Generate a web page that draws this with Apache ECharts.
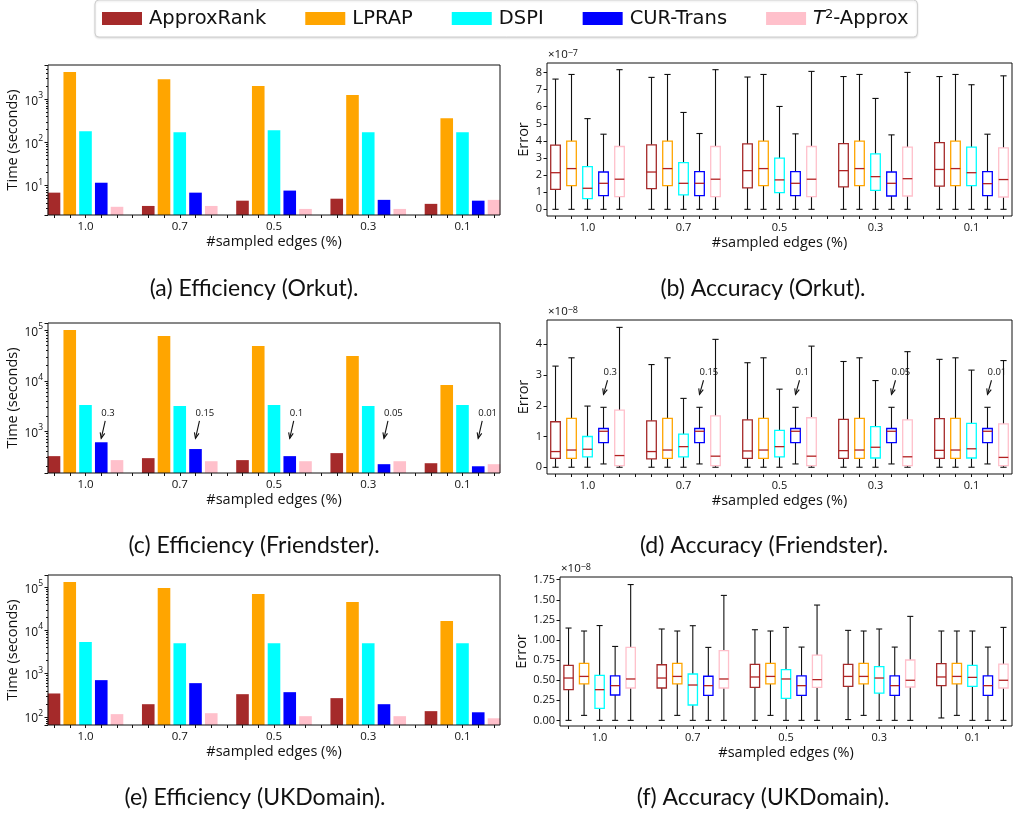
<!DOCTYPE html>
<html>
<head>
<meta charset="utf-8">
<title>Efficiency and accuracy</title>
<script src="https://cdn.jsdelivr.net/npm/echarts@6/dist/echarts.min.js"></script>
<style>
html, body { margin: 0; padding: 0; background: #fff; }
#chart { width: 1016px; height: 813px; }
</style>
</head>
<body>
<div id="chart"></div>
<script>
var methods = ['ApproxRank', 'LPRAP', 'DSPI', 'CUR-Trans', 'T2-Approx'];
var colors = ['#a52a2a', '#ffa500', '#00ffff', '#0000ff', '#ffc0cb'];
var sampleRates = ['1.0', '0.7', '0.5', '0.3', '0.1'];
var cutRatios = ['0.3', '0.15', '0.1', '0.05', '0.01'];

// running time in seconds, one row per method, one column per sample rate
var orkutTime = [
    [6.9, 3.4, 4.5, 5.0, 3.8],
    [4250, 2900, 2000, 1240, 361],
    [180, 171, 190, 171, 171],
    [11.7, 6.9, 7.7, 4.7, 4.5],
    [3.25, 3.4, 2.9, 2.9, 4.7]
];
var friendsterTime = [
    [318, 290, 265, 365, 230],
    [102000, 78000, 49000, 31000, 8250],
    [3300, 3150, 3300, 3150, 3300],
    [600, 440, 318, 220, 200],
    [265, 252, 252, 252, 220]
];
var ukdomainTime = [
    [349, 197, 336, 272, 136],
    [133000, 97000, 70000, 46000, 16600],
    [5400, 5100, 5100, 5100, 5100],
    [710, 605, 374, 197, 128],
    [116, 122, 104, 104, 93]
];

// error boxes: [min, q1, median, q3, max] for every sample rate
var orkutError = [ // x 1e-7
    [[0, 1.17, 2.14, 3.75, 7.61], [0, 1.21, 2.18, 3.77, 7.71], [0, 1.25, 2.26, 3.82, 7.73], [0, 1.31, 2.26, 3.84, 7.76], [0, 1.35, 2.33, 3.9, 7.76]],
    [[0, 1.38, 2.38, 3.98, 7.88], [0, 1.38, 2.38, 3.98, 7.88], [0, 1.38, 2.38, 3.98, 7.88], [0, 1.38, 2.38, 3.98, 7.88], [0, 1.38, 2.38, 3.98, 7.88]],
    [[0, 0.62, 1.23, 2.49, 5.30], [0, 0.84, 1.52, 2.73, 5.66], [0, 0.97, 1.72, 2.99, 6.01], [0, 1.11, 1.91, 3.24, 6.48], [0, 1.38, 2.14, 3.63, 7.28]],
    [[0, 0.8, 1.52, 2.18, 4.39], [0, 0.8, 1.52, 2.2, 4.43], [0, 0.8, 1.52, 2.2, 4.41], [0, 0.78, 1.52, 2.18, 4.35], [0, 0.8, 1.5, 2.2, 4.39]],
    [[0, 0.74, 1.76, 3.67, 8.16], [0, 0.74, 1.76, 3.67, 8.16], [0, 0.74, 1.76, 3.67, 8.06], [0, 0.78, 1.79, 3.63, 8.0], [0, 0.72, 1.74, 3.59, 7.8]]
];
var friendsterError = [ // x 1e-8
    [[0, 0.29, 0.51, 1.48, 3.29], [0, 0.27, 0.51, 1.51, 3.34], [0, 0.29, 0.53, 1.54, 3.40], [0, 0.29, 0.54, 1.56, 3.44], [0, 0.29, 0.55, 1.58, 3.51]],
    [[0, 0.29, 0.56, 1.59, 3.56], [0, 0.29, 0.56, 1.59, 3.56], [0, 0.29, 0.56, 1.59, 3.56], [0, 0.29, 0.56, 1.59, 3.56], [0, 0.29, 0.56, 1.59, 3.56]],
    [[0, 0.335, 0.585, 1.0, 1.99], [0, 0.335, 0.67, 1.08, 2.24], [0, 0.335, 0.67, 1.2, 2.54], [0, 0.3, 0.65, 1.32, 2.82], [0, 0.3, 0.6, 1.43, 3.16]],
    [[0.107, 0.8, 1.17, 1.26, 1.95], [0.107, 0.8, 1.17, 1.26, 1.95], [0.107, 0.8, 1.17, 1.26, 1.95], [0.107, 0.8, 1.17, 1.26, 1.95], [0.107, 0.8, 1.17, 1.26, 1.95]],
    [[0, 0.05, 0.38, 1.86, 4.55], [0, 0.05, 0.36, 1.67, 4.16], [0, 0.05, 0.36, 1.61, 3.94], [0, 0.05, 0.34, 1.54, 3.76], [0, 0.05, 0.32, 1.41, 3.47]]
];
var ukdomainError = [ // x 1e-8
    [[0, 0.382, 0.527, 0.684, 1.149], [0, 0.403, 0.527, 0.692, 1.137], [0, 0.41, 0.54, 0.696, 1.128], [0.01, 0.423, 0.547, 0.696, 1.12], [0.03, 0.432, 0.54, 0.705, 1.112]],
    [[0.062, 0.453, 0.547, 0.709, 1.112], [0.062, 0.453, 0.547, 0.709, 1.112], [0.062, 0.453, 0.547, 0.709, 1.112], [0.062, 0.453, 0.547, 0.709, 1.112], [0.062, 0.453, 0.547, 0.709, 1.112]],
    [[0, 0.149, 0.382, 0.56, 1.18], [0, 0.191, 0.44, 0.577, 1.178], [0, 0.274, 0.515, 0.631, 1.157], [0, 0.34, 0.527, 0.668, 1.137], [0, 0.423, 0.535, 0.684, 1.112]],
    [[0, 0.316, 0.432, 0.553, 0.92], [0, 0.312, 0.432, 0.549, 0.908], [0, 0.312, 0.432, 0.553, 0.912], [0, 0.312, 0.432, 0.553, 0.912], [0, 0.312, 0.432, 0.553, 0.912]],
    [[0, 0.403, 0.515, 0.908, 1.69], [0, 0.403, 0.515, 0.867, 1.555], [0, 0.41, 0.507, 0.813, 1.435], [0, 0.415, 0.499, 0.751, 1.294], [0, 0.403, 0.499, 0.7, 1.157]]
];

// y tick labels of the error panels
var orkutErrorTicks = [0, 1, 2, 3, 4, 5, 6, 7, 8];
var friendsterErrorTicks = [0, 1, 2, 3, 4];
var ukdomainErrorTicks = [0, 0.25, 0.5, 0.75, 1, 1.25, 1.5, 1.75];

// cut-ratio notes on CUR-Trans: [text value, arrow head value]
var friendsterTimeNote = [2300, 720];
var friendsterErrorNote = [3.09, 2.37];

var FONT = 'Open Sans';
var SLOTS = 6;         // 5 methods + 1 empty slot per group
var BOX_WIDTH = 0.1;   // in group units
var MEDIAN_COLOR = '#b22222';

var panels = [
    {kind: 'time', rows: orkutTime, box: [48, 65, 452, 150], yMin: 2.1, yMax: 6150, pad: 0.398,
        caption: '(a) Efficiency (Orkut).', capPos: [254, 289]},
    {kind: 'error', rows: orkutError, box: [547, 63, 465, 153], yMin: -0.39, yMax: 8.55, pad: 0.422,
        ticks: orkutErrorTicks, power: '−7', nameGap: 15, caption: '(b) Accuracy (Orkut).', capPos: [763, 289]},
    {kind: 'time', rows: friendsterTime, box: [48, 323, 452, 150], yMin: 147, yMax: 140600, pad: 0.398,
        note: friendsterTimeNote, caption: '(c) Efficiency (Friendster).', capPos: [254, 546]},
    {kind: 'error', rows: friendsterError, box: [547, 320, 465, 154], yMin: -0.22, yMax: 4.79, pad: 0.422,
        ticks: friendsterErrorTicks, power: '−8', nameGap: 15, note: friendsterErrorNote,
        caption: '(d) Accuracy (Friendster).', capPos: [764, 546]},
    {kind: 'time', rows: ukdomainTime, box: [48, 575, 452, 150], yMin: 65, yMax: 192800, pad: 0.398,
        caption: '(e) Efficiency (UKDomain).', capPos: [255, 798]},
    {kind: 'error', rows: ukdomainError, box: [560, 577, 452, 149], yMin: -0.07, yMax: 1.784, pad: 0.425,
        ticks: ukdomainErrorTicks, power: '−8', nameGap: 28, digits: 2,
        caption: '(f) Accuracy (UKDomain).', capPos: [763, 798]}
];

var slotTicks = [];
sampleRates.forEach(function (s, i) {
    for (var k = -2; k <= 3; k++) slotTicks.push(i + k / SLOTS);
});
var groupTicks = sampleRates.map(function (s, i) { return i; });

function powLabel(v) {
    var e = Math.log10(v);
    var r = Math.round(e);
    if (Math.abs(e - r) > 1e-6) return '';
    return '{b|10}{s|' + r + '}';
}

function minorLogTicks(lo, hi) {
    var t = [];
    for (var e = Math.floor(Math.log10(lo)); e <= Math.ceil(Math.log10(hi)); e++) {
        for (var k = 2; k <= 9; k++) {
            var v = Math.log10(k) + e;
            if (v > Math.log10(lo) && v < Math.log10(hi)) t.push(v);
        }
    }
    return t;
}

function boxRenderer(slot) {
    return function (params, api) {
        var x = api.value(0) + (slot - 2) / SLOTS;
        var half = api.size([1, 0])[0] * BOX_WIDTH / 2;
        var cap = half * 0.65;
        var pMin = api.coord([x, api.value(1)]);
        var pQ1 = api.coord([x, api.value(2)]);
        var pMed = api.coord([x, api.value(3)]);
        var pQ3 = api.coord([x, api.value(4)]);
        var pMax = api.coord([x, api.value(5)]);
        var cx = pMin[0];
        var black = {stroke: '#111', lineWidth: 1.1};
        return {
            type: 'group',
            children: [
                {type: 'line', shape: {x1: cx, y1: pQ3[1], x2: cx, y2: pMax[1]}, style: black},
                {type: 'line', shape: {x1: cx, y1: pQ1[1], x2: cx, y2: pMin[1]}, style: black},
                {type: 'line', shape: {x1: cx - cap, y1: pMax[1], x2: cx + cap, y2: pMax[1]}, style: black},
                {type: 'line', shape: {x1: cx - cap, y1: pMin[1], x2: cx + cap, y2: pMin[1]}, style: black},
                {type: 'rect', shape: {x: cx - half, y: pQ3[1], width: half * 2, height: pQ1[1] - pQ3[1]},
                    style: {fill: '#fff', stroke: api.visual('color'), lineWidth: 1.3}},
                {type: 'line', shape: {x1: cx - half, y1: pMed[1], x2: cx + half, y2: pMed[1]},
                    style: {stroke: MEDIAN_COLOR, lineWidth: 1.3}}
            ]
        };
    };
}

function noteRenderer(params, api) {
    var x = api.value(0) + 1 / SLOTS; // CUR-Trans slot
    var pText = api.coord([x, api.value(1)]);
    var head = api.coord([x, api.value(2)]);
    var tx = head[0] + 4, ty = pText[1] + 8;
    var ang = Math.atan2(head[1] - ty, head[0] - tx);
    var a = 6, s = 0.4;
    return {
        type: 'group',
        children: [
            {type: 'text', style: {text: cutRatios[params.dataIndex], x: head[0], y: pText[1],
                align: 'left', verticalAlign: 'middle', font: '9.5px "' + FONT + '"', fill: '#111'}},
            {type: 'line', shape: {x1: tx, y1: ty, x2: head[0], y2: head[1]}, style: {stroke: '#111', lineWidth: 1.1}},
            {type: 'polyline', shape: {points: [
                [head[0] - a * Math.cos(ang - s), head[1] - a * Math.sin(ang - s)],
                [head[0], head[1]],
                [head[0] - a * Math.cos(ang + s), head[1] - a * Math.sin(ang + s)]
            ]}, style: {stroke: '#111', fill: 'none', lineWidth: 1.1}}
        ]
    };
}

var grids = [], xAxes = [], yAxes = [], series = [], graphics = [];
var nameStyle = {fontFamily: FONT, fontSize: 14.5, color: '#111'};
var noLine = {show: false, onZero: false};

panels.forEach(function (p, g) {
    grids.push({
        left: p.box[0], top: p.box[1], width: p.box[2], height: p.box[3],
        show: true, borderColor: '#111', borderWidth: 1, backgroundColor: 'transparent', z: 5
    });
    xAxes.push({
        gridIndex: g, type: 'value', min: -p.pad, max: sampleRates.length - 1 + p.pad, position: 'bottom',
        axisLine: noLine, splitLine: {show: false},
        axisTick: {customValues: slotTicks, length: 3, lineStyle: {color: '#111'}},
        axisLabel: {customValues: groupTicks, margin: 6, fontFamily: FONT, fontSize: p.kind === 'time' ? 11.5 : 11,
            color: '#111', formatter: function (v) { return sampleRates[Math.round(v)]; }},
        name: '#sampled edges (%)', nameLocation: 'middle', nameGap: 19, nameTextStyle: nameStyle
    });
    var yIndex = yAxes.length;
    if (p.kind === 'time') {
        yAxes.push({
            gridIndex: g, type: 'log', logBase: 10, min: p.yMin, max: p.yMax, position: 'left',
            axisLine: noLine, splitLine: {show: false},
            axisTick: {length: 3.5, lineStyle: {color: '#111'}},
            axisLabel: {formatter: powLabel, margin: 5, rich: {
                b: {fontFamily: FONT, fontSize: 12, color: '#111', lineHeight: 16, verticalAlign: 'bottom'},
                s: {fontFamily: FONT, fontSize: 8.5, color: '#111', lineHeight: 9, verticalAlign: 'top'}
            }},
            name: 'Time (seconds)', nameLocation: 'middle', nameGap: 27, nameTextStyle: nameStyle
        });
        yAxes.push({
            gridIndex: g, type: 'value', position: 'left', offset: 0,
            min: Math.log10(p.yMin), max: Math.log10(p.yMax),
            axisLine: noLine, splitLine: {show: false}, axisLabel: {show: false},
            axisTick: {customValues: minorLogTicks(p.yMin, p.yMax), length: 2, lineStyle: {color: '#111'}}
        });
        p.rows.forEach(function (row, m) {
            series.push({
                type: 'bar', name: methods[m], xAxisIndex: g, yAxisIndex: yIndex,
                data: row.map(function (v, i) { return [i, v]; }),
                barWidth: 12.6, barGap: '25%', clip: true,
                itemStyle: {color: colors[m]}
            });
        });
    } else {
        yAxes.push({
            gridIndex: g, type: 'value', min: p.yMin, max: p.yMax, position: 'left',
            axisLine: noLine, splitLine: {show: false},
            axisTick: {customValues: p.ticks, length: 3.5, lineStyle: {color: '#111'}},
            axisLabel: {customValues: p.ticks, margin: 5, fontFamily: FONT, fontSize: 11, color: '#111',
                formatter: function (v) { return p.digits ? v.toFixed(p.digits) : String(v); }},
            name: 'Error', nameLocation: 'middle', nameGap: p.nameGap, nameTextStyle: nameStyle
        });
        p.rows.forEach(function (row, m) {
            series.push({
                type: 'custom', name: methods[m], xAxisIndex: g, yAxisIndex: yIndex,
                data: row.map(function (b, i) { return [i].concat(b); }),
                encode: {x: 0, y: [1, 2, 3, 4, 5]},
                itemStyle: {color: colors[m]},
                renderItem: boxRenderer(m)
            });
        });
        graphics.push({
            type: 'text', left: p.box[0] + 1, top: p.box[1] - 14,
            style: {text: '×10{s|' + p.power + '}', fill: '#111', font: '11.5px "' + FONT + '"',
                rich: {s: {fontFamily: FONT, fontSize: 9, fill: '#111', verticalAlign: 'top'}}}
        });
    }
    if (p.note) {
        series.push({
            type: 'custom', xAxisIndex: g, yAxisIndex: yIndex, silent: true, z: 4,
            data: cutRatios.map(function (c, i) { return [i, p.note[0], p.note[1]]; }),
            renderItem: noteRenderer
        });
    }
    graphics.push({
        type: 'text', x: p.capPos[0], y: p.capPos[1],
        style: {text: p.caption, fill: '#111', font: '23px Lato', align: 'center', verticalAlign: 'middle'}
    });
});

var chart = echarts.init(document.getElementById('chart'));
chart.setOption({
    animation: false,
    backgroundColor: '#fff',
    legend: {
        data: methods.map(function (n) { return {name: n, icon: 'rect'}; }),
        left: 95, top: 0, padding: [8, 9, 8, 7],
        itemWidth: 40, itemHeight: 13, itemGap: 39,
        backgroundColor: '#fff', borderColor: '#cfcfcf', borderWidth: 1, borderRadius: 4,
        shadowColor: 'rgba(0,0,0,0.12)', shadowBlur: 2, shadowOffsetY: 1,
        formatter: function (n) { return n === 'T2-Approx' ? '{it|T}{sup|2}-Approx' : n; },
        textStyle: {fontFamily: 'DejaVu Sans', fontSize: 19.5, color: '#111', lineHeight: 21, padding: [0, 0, 0, 2],
            rich: {
                it: {fontFamily: 'DejaVu Sans', fontStyle: 'italic', fontSize: 19.5, lineHeight: 21, verticalAlign: 'bottom'},
                sup: {fontFamily: 'DejaVu Sans', fontSize: 13, lineHeight: 13, verticalAlign: 'top'}
            }}
    },
    grid: grids,
    xAxis: xAxes,
    yAxis: yAxes,
    series: series,
    graphic: graphics
});
</script>
</body>
</html>
